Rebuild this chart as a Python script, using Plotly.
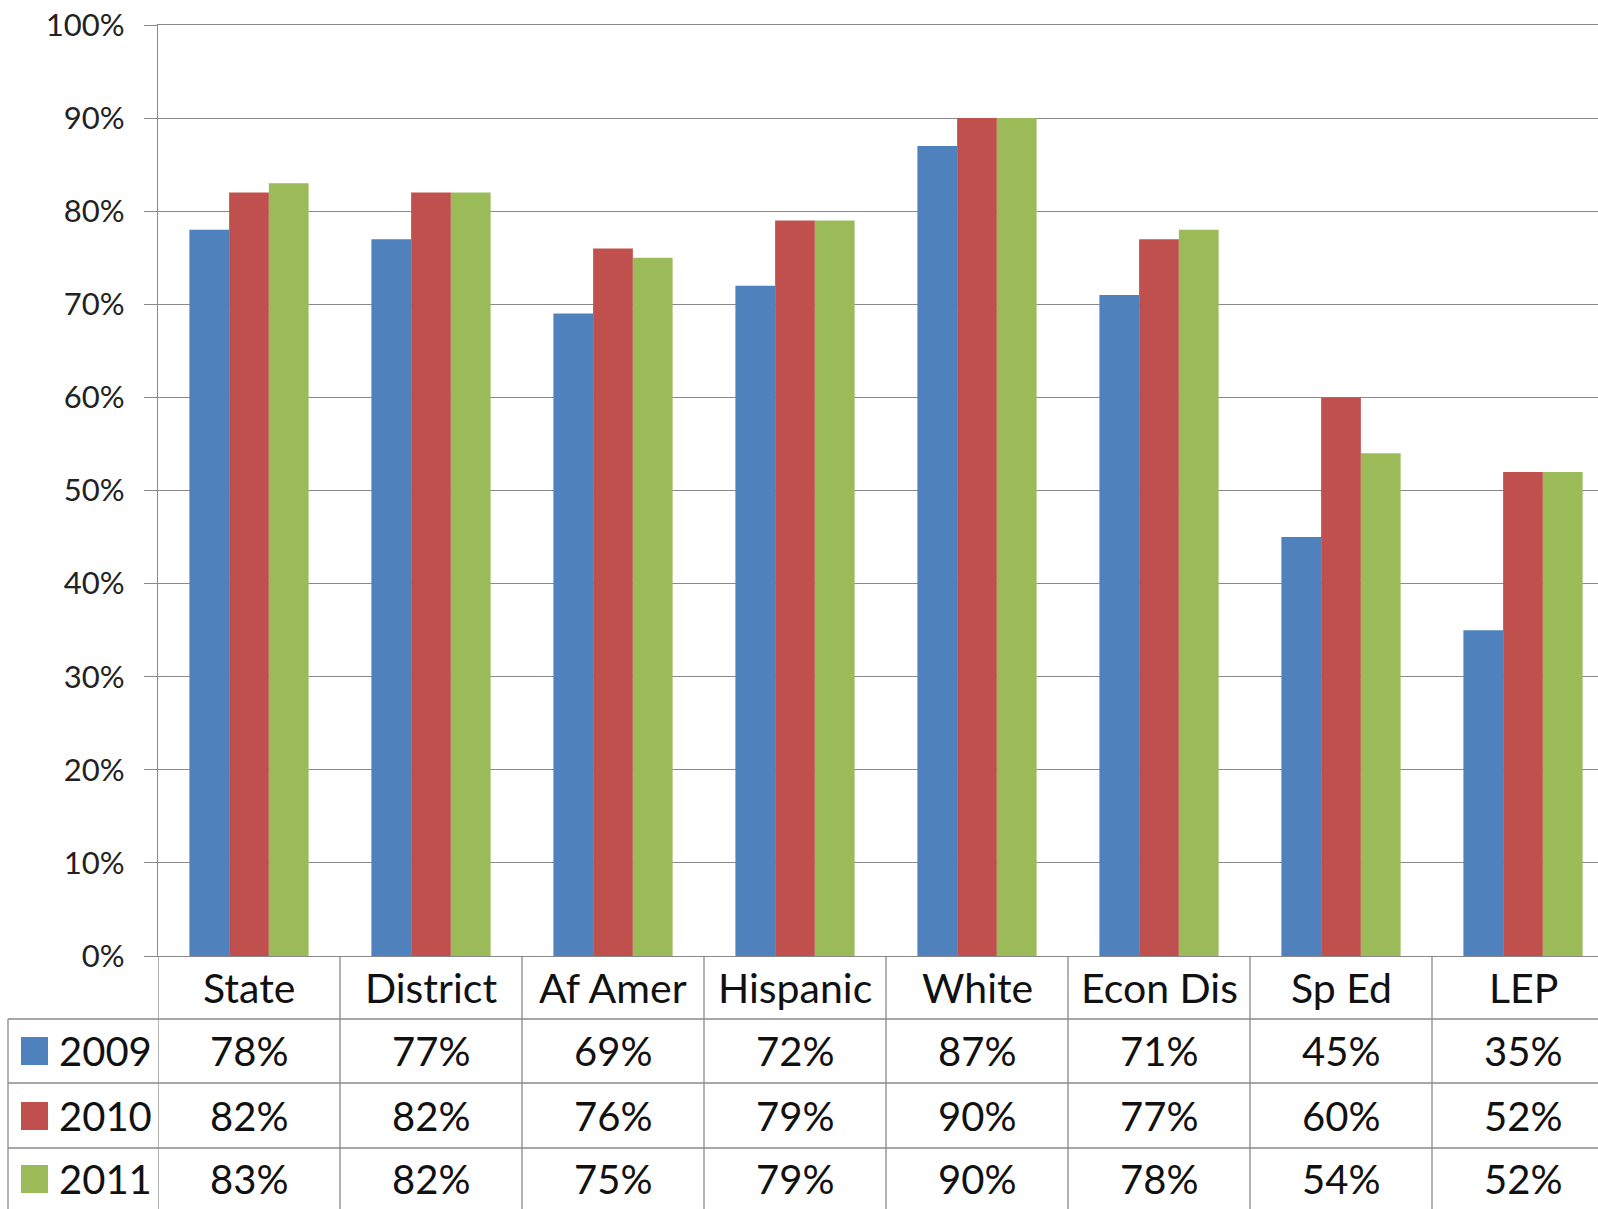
import plotly.graph_objects as go

categories = ["State", "District", "Af Amer", "Hispanic", "White", "Econ Dis", "Sp Ed", "LEP"]
years = ["2009", "2010", "2011"]
v2009 = [78, 77, 69, 72, 87, 71, 45, 35]
v2010 = [82, 82, 76, 79, 90, 77, 60, 52]
v2011 = [83, 82, 75, 79, 90, 78, 54, 52]
series = [v2009, v2010, v2011]
colors = ["#4F81BD", "#C0504D", "#9BBB59"]

W, H = 1598, 1209
L = 158
T = 25
PLOT_BOTTOM = 956
B = H - PLOT_BOTTOM
PW = W - L
PH = H - T - B
CAT_W = 182.0

def xp(px):
    return (px - L) / PW

def yp(py):
    return (PLOT_BOTTOM - py) / PH

FONT = "Lato"
TXT = "#111111"
GRID = "#8a8a8a"

fig = go.Figure()
for name, vals, col in zip(years, series, colors):
    fig.add_trace(go.Bar(x=list(range(len(categories))), y=vals, name=name,
                         marker=dict(color=col, line=dict(width=0)),
                         showlegend=False))

shapes = []
annotations = []

# vertical table lines at category boundaries
for k in range(len(categories) + 1):
    shapes.append(dict(type="line", xref="x", yref="paper", x0=k - 0.5, x1=k - 0.5,
                       y0=0, y1=yp(H + 5), line=dict(color=GRID, width=1.3)))
# left border of legend column
shapes.append(dict(type="line", xref="paper", yref="paper", x0=xp(8), x1=xp(8),
                   y0=yp(1019), y1=yp(H + 5), line=dict(color=GRID, width=1.3)))
# horizontal row lines
for py in [1019, 1083, 1148]:
    shapes.append(dict(type="line", xref="paper", yref="paper", x0=xp(8), x1=1.0,
                       y0=yp(py), y1=yp(py), line=dict(color=GRID, width=1.3)))

# header (category labels)
for i, c in enumerate(categories):
    annotations.append(dict(x=i, y=yp(987), xref="x", yref="paper", text=c,
                            showarrow=False, xanchor="center", yanchor="middle",
                            font=dict(family=FONT, size=41, color=TXT)))

row_centers = [1051, 1116, 1179]
for r, (name, vals, col) in enumerate(zip(years, series, colors)):
    cy = row_centers[r]
    shapes.append(dict(type="rect", xref="paper", yref="paper",
                       x0=xp(21), x1=xp(48), y0=yp(cy + 14), y1=yp(cy - 14),
                       fillcolor=col, line=dict(width=0)))
    annotations.append(dict(x=xp(57), y=yp(cy), xref="paper", yref="paper", text=name,
                            showarrow=False, xanchor="left", yanchor="middle",
                            font=dict(family=FONT, size=40, color=TXT)))
    for i, v in enumerate(vals):
        annotations.append(dict(x=i, y=yp(cy), xref="x", yref="paper", text=f"{v}%",
                                showarrow=False, xanchor="center", yanchor="middle",
                                font=dict(family=FONT, size=40, color=TXT)))

fig.update_layout(
    width=W, height=H,
    margin=dict(l=L, r=0, t=T, b=B, pad=0, autoexpand=False),
    paper_bgcolor="white", plot_bgcolor="white",
    barmode="group", bargap=0.345, bargroupgap=0,
    shapes=shapes, annotations=annotations,
    xaxis=dict(range=[-0.5, -0.5 + PW / CAT_W], showticklabels=False, showgrid=False,
               zeroline=False, showline=True, mirror=True, linecolor=GRID, linewidth=1.3,
               ticks="", automargin=False),
    yaxis=dict(range=[0, 100], dtick=10, ticksuffix="%", showgrid=True, gridcolor=GRID,
               gridwidth=1.3, zeroline=False, showline=True, linecolor=GRID, linewidth=1.3,
               ticks="outside", ticklen=13, tickcolor=GRID, tickwidth=1.3,
               ticklabelstandoff=13, ticklabeloverflow="allow", automargin=False,
               tickfont=dict(family=FONT, size=31, color="#222222")),
)

fig.write_html("out.html", config={"displayModeBar": False},
               post_script="document.body.style.margin='0';document.body.style.overflow='hidden';")
